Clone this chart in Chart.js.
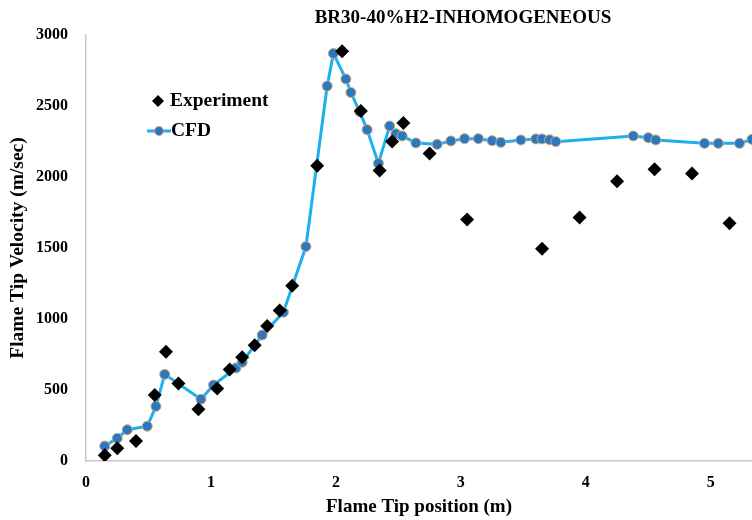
<!DOCTYPE html>
<html>
<head>
<meta charset="utf-8">
<script src="https://cdn.jsdelivr.net/npm/chart.js@4.4.1/dist/chart.umd.min.js"></script>
<style>
  html, body { margin: 0; padding: 0; background: #fff; overflow: hidden; }
  /* 7px más ancho que la ventana: el margen que Chart.js deja para los puntos queda fuera, como en el original (recortado) */
  #wrap { position: absolute; left: 0; top: 0; width: 759px; height: 520px; }
</style>
</head>
<body>
<div id="wrap"><canvas id="c"></canvas></div>
<script>
/* BR30-40%H2 inhomogeneous: velocidad de la punta de llama, experimento vs CFD. */
const titulo = 'BR30-40%H2-INHOMOGENEOUS';
const tituloX = 'Flame Tip position (m)';
const tituloY = 'Flame Tip Velocity (m/sec)';

const expX = [0.15, 0.25, 0.40, 0.55, 0.64, 0.74, 0.90, 1.05, 1.15, 1.25, 1.35, 1.45, 1.55, 1.65,
  1.85, 2.05, 2.20, 2.35, 2.45, 2.54, 2.75, 3.05, 3.65, 3.95, 4.25, 4.55, 4.85, 5.15];
const expY = [40, 90, 140, 465, 770, 545, 365, 510, 645, 730, 815, 950, 1060, 1235,
  2080, 2885, 2465, 2045, 2250, 2380, 2165, 1700, 1495, 1715, 1970, 2055, 2025, 1675];

const cfdX = [0.15, 0.25, 0.33, 0.49, 0.56, 0.63, 0.92, 1.02, 1.20, 1.25, 1.41, 1.58, 1.76, 1.93,
  1.98, 2.08, 2.12, 2.19, 2.25, 2.34, 2.43, 2.48, 2.53, 2.64, 2.81, 2.92, 3.03, 3.14, 3.25,
  3.32, 3.48, 3.60, 3.65, 3.71, 3.76, 4.38, 4.50, 4.56, 4.95, 5.06, 5.23, 5.33];
const cfdY = [105, 160, 220, 245, 385, 610, 435, 535, 655, 695, 887, 1048, 1510, 2640,
  2870, 2690, 2595, 2460, 2333, 2096, 2359, 2305, 2289, 2240, 2230, 2254, 2270, 2270, 2256,
  2244, 2261, 2268, 2268, 2262, 2249, 2289, 2277, 2261, 2237, 2237, 2237, 2265];

const xTicks = [0, 1, 2, 3, 4, 5];
const yTicks = [0, 500, 1000, 1500, 2000, 2500, 3000];

const serif = '"Liberation Serif", "Times New Roman", serif';
Chart.defaults.font.family = serif;
Chart.defaults.color = '#000';

const pares = (xs, ys) => xs.map((x, i) => ({ x, y: ys[i] }));

// Título y leyenda dibujados a mano (la leyenda va dentro del área del gráfico).
const textos = {
  id: 'textos',
  afterDraw(chart) {
    const ctx = chart.ctx;
    const [dExp, dCfd] = chart.data.datasets;
    ctx.save();
    ctx.fillStyle = '#000';
    ctx.textBaseline = 'middle';
    ctx.textAlign = 'center';
    ctx.font = 'bold 19px ' + serif;
    ctx.fillText(titulo, 463, 18);

    // leyenda
    ctx.textAlign = 'left';
    ctx.font = 'bold 19.5px ' + serif;
    ctx.fillStyle = dExp.backgroundColor;
    ctx.strokeStyle = dExp.borderColor;
    Chart.helpers.drawPoint(ctx, { pointStyle: 'rectRot', radius: 6, borderWidth: 0, rotation: 0 }, 158, 101);
    ctx.fillStyle = '#000';
    ctx.fillText('Experiment', 170, 101);

    ctx.strokeStyle = dCfd.borderColor;
    ctx.lineWidth = dCfd.borderWidth;
    ctx.beginPath(); ctx.moveTo(147, 131); ctx.lineTo(171, 131); ctx.stroke();
    ctx.fillStyle = dCfd.pointBackgroundColor;
    ctx.strokeStyle = dCfd.pointBorderColor;
    ctx.lineWidth = 1;
    Chart.helpers.drawPoint(ctx, { pointStyle: 'circle', radius: 4.5, borderWidth: 1, rotation: 0 }, 159, 131);
    ctx.fillStyle = '#000';
    ctx.fillText('CFD', 171, 131);
    ctx.restore();
  }
};

new Chart(document.getElementById('c'), {
  type: 'scatter',
  data: {
    datasets: [
      { label: 'Experiment', data: pares(expX, expY), pointStyle: 'rectRot', pointRadius: 7,
        backgroundColor: '#000', borderColor: '#000', pointBorderWidth: 0 },
      { label: 'CFD', data: pares(cfdX, cfdY), showLine: true, borderColor: '#1cb1ee', borderWidth: 3,
        pointRadius: 5, pointBackgroundColor: '#2878c2', pointBorderColor: '#d9a276', pointBorderWidth: 1 },
    ],
  },
  options: {
    responsive: true, maintainAspectRatio: false, animation: false,
    layout: { padding: { top: 35, left: 0, right: 0, bottom: 0 } },
    plugins: { legend: { display: false }, tooltip: { enabled: false } },
    scales: {
      x: {
        type: 'linear', min: 0, max: 5.33,
        grid: { display: false, drawTicks: false },
        border: { display: true, color: '#c8c8c8', width: 1.5 },
        afterBuildTicks: s => { s.ticks = xTicks.map(v => ({ value: v })); },
        afterFit: s => { s.height = 59; s.paddingLeft = 0; s.paddingRight = 0; },
        ticks: { padding: 12, font: { size: 16, weight: 'bold' }, callback: v => String(v) },
        title: { display: true, text: tituloX, padding: { bottom: 2 }, font: { size: 19, weight: 'bold' } },
      },
      y: {
        min: 0, max: 3000,
        grid: { display: false, drawTicks: false },
        border: { display: true, color: '#c8c8c8', width: 1.5 },
        afterBuildTicks: s => { s.ticks = yTicks.map(v => ({ value: v })); },
        afterFit: s => { s.width = 86; },
        ticks: { padding: 18, font: { size: 16, weight: 'bold' }, callback: v => String(v) },
        title: { display: true, text: tituloY, padding: { top: 6 }, font: { size: 19.5, weight: 'bold' } },
      },
    },
  },
  plugins: [textos],
});
</script>
</body>
</html>
